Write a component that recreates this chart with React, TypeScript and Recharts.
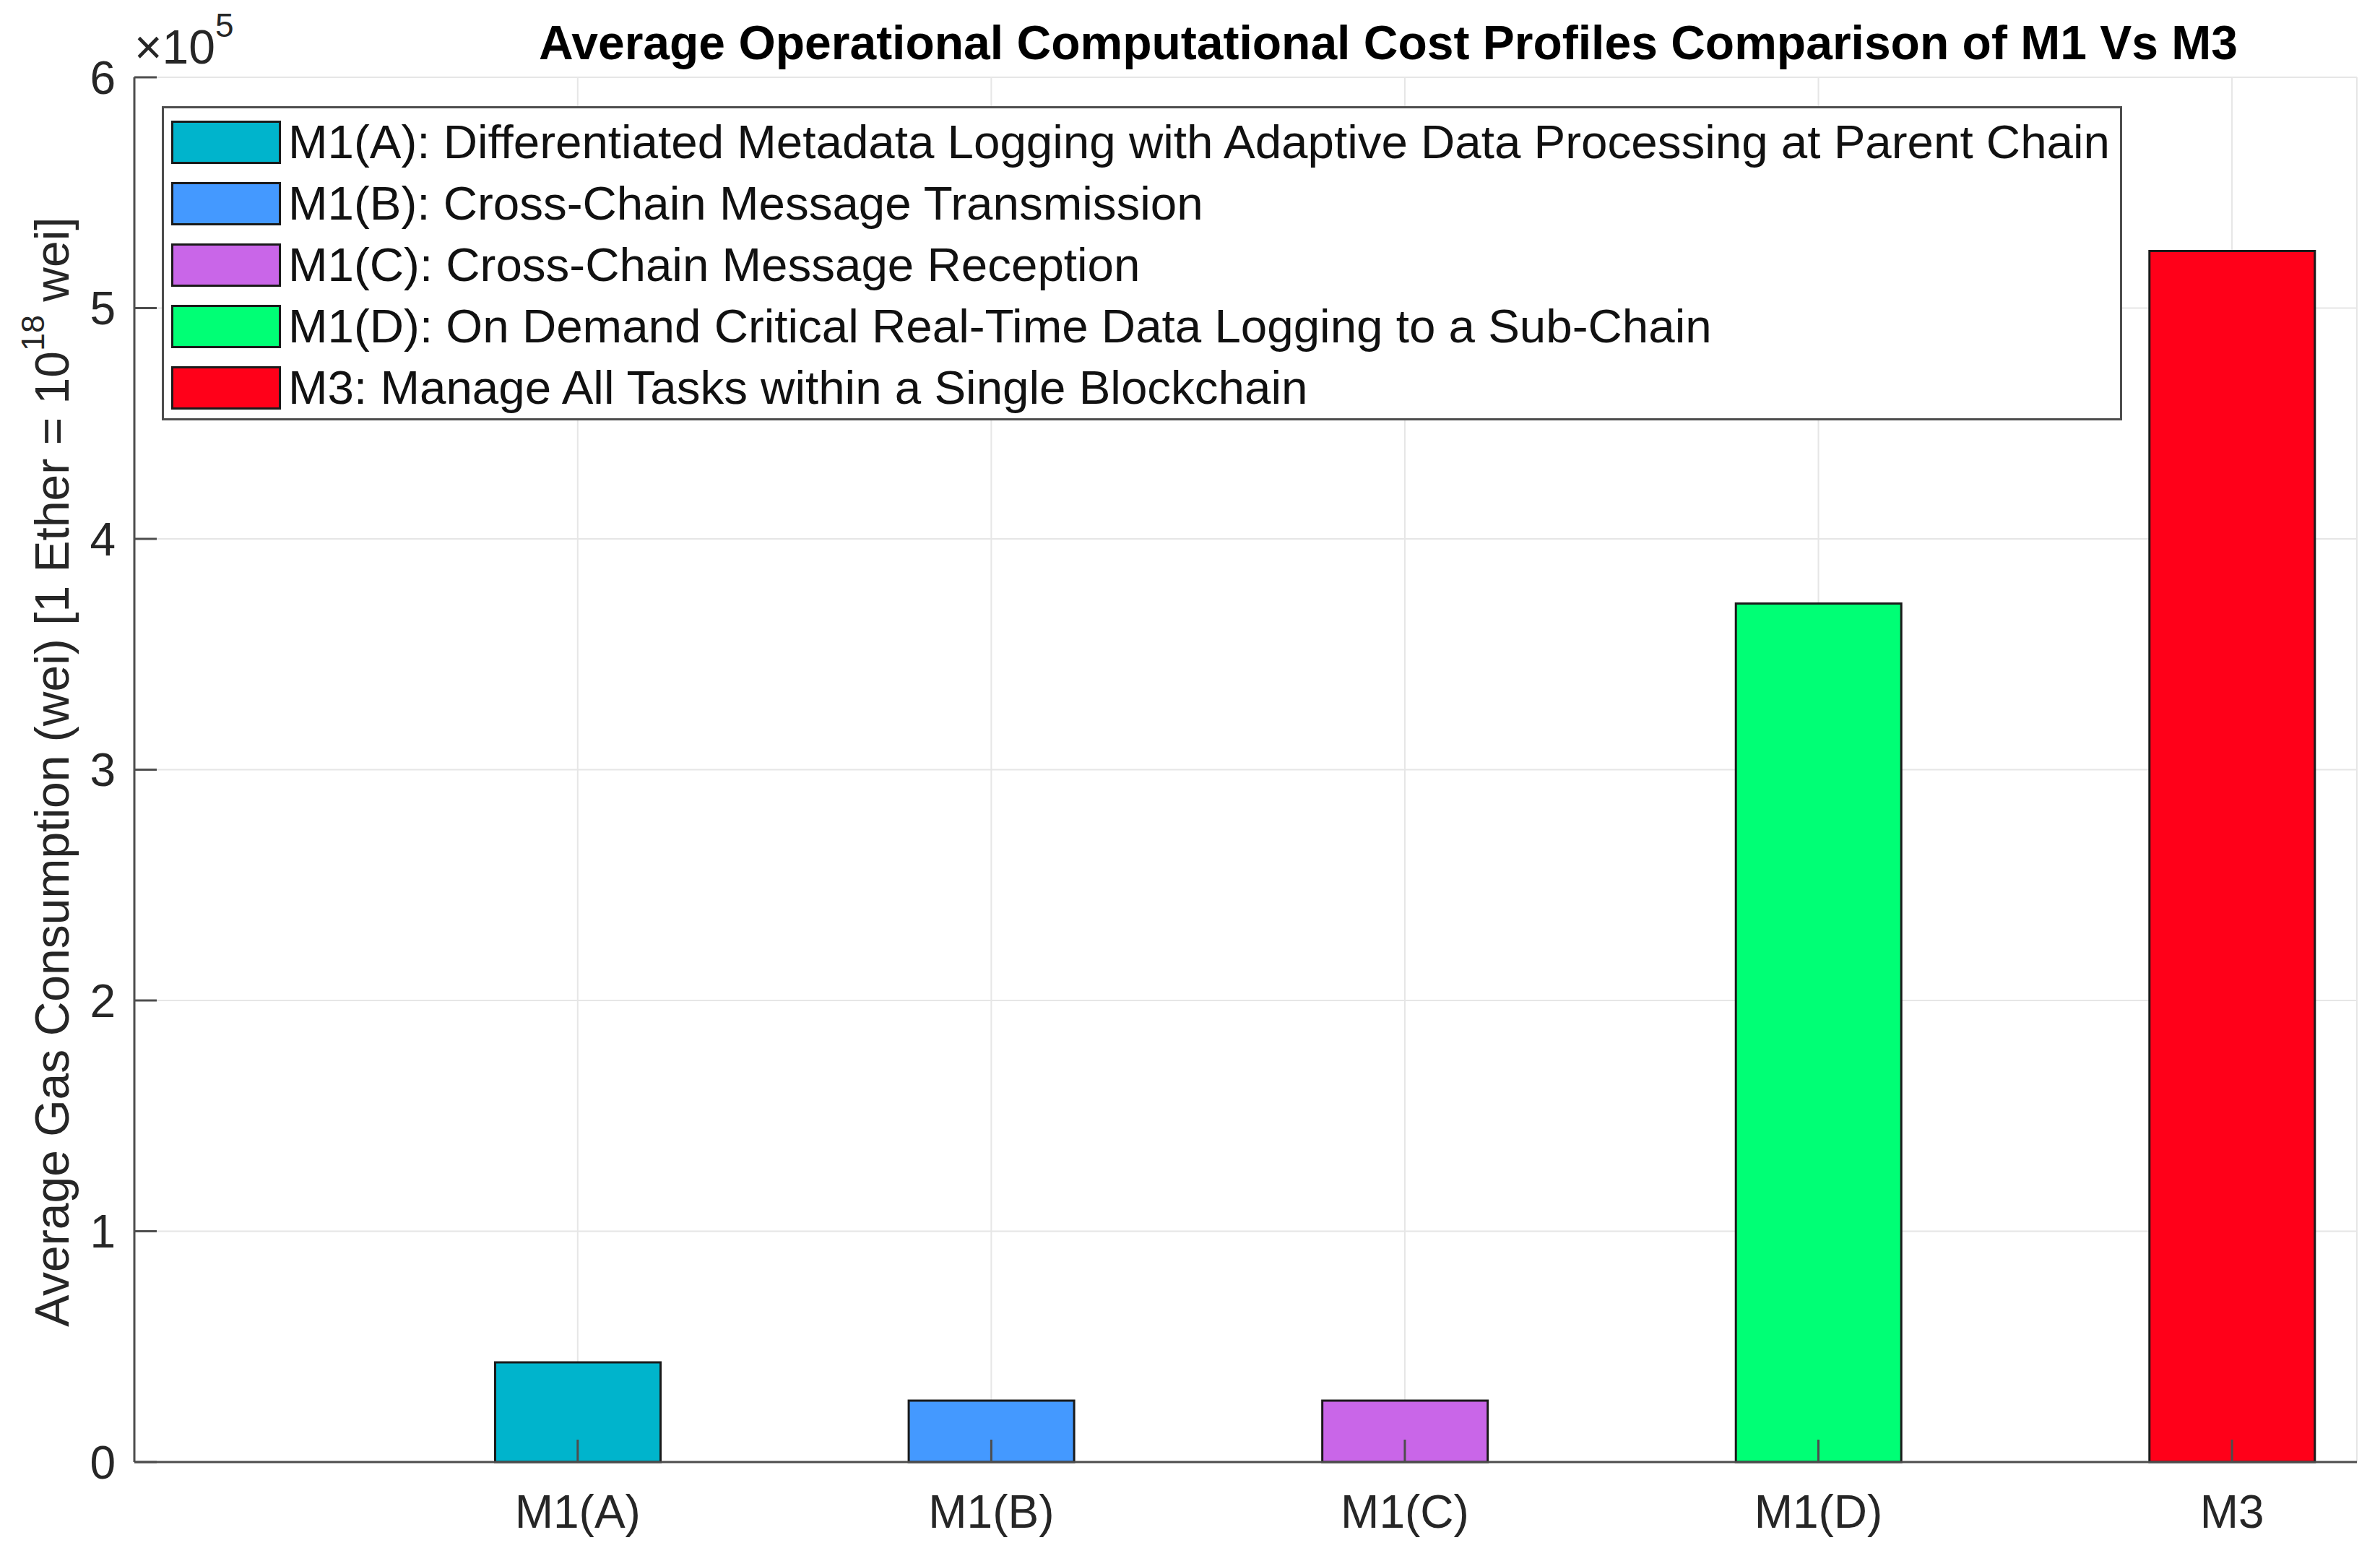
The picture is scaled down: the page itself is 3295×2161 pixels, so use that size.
import React from "react";
import { BarChart, Bar, Cell, XAxis, YAxis, CartesianGrid, Legend } from "recharts";

// values (wei)
const categories = ["M1(A)", "M1(B)", "M1(C)", "M1(D)", "M3"];
const positions = [1, 2, 3, 4, 5];
const gasValues = [43200, 26600, 26600, 372000, 524700];
const barColors = ["#00B4CC", "#4499FF", "#C966E8", "#00FF75", "#FF0019"];
const legendLabels = [
  "M1(A): Differentiated Metadata Logging with Adaptive Data Processing at Parent Chain",
  "M1(B): Cross-Chain Message Transmission",
  "M1(C): Cross-Chain Message Reception",
  "M1(D): On Demand Critical Real-Time Data Logging to a Sub-Chain",
  "M3: Manage All Tasks within a Single Blockchain",
];
const yTicks = [0, 100000, 200000, 300000, 400000, 500000, 600000];
const yScaleExp = 5;

const FONT = "'Liberation Sans', Arial, Helvetica, sans-serif";
const AXIS = "#4d4d4d";
const TEXT = "#262626";

const data = categories.map((name, i) => ({ name, pos: positions[i], value: gasValues[i] }));

const W = 3295;
const H = 2161;

function LegendBox() {
  return (
    <div style={{ background: "#fff", border: `3px solid ${AXIS}`, boxSizing: "border-box", width: 2714, height: 435, padding: "4px 0 0 10px", fontFamily: FONT }}>
      {legendLabels.map((lbl, i) => (
        <div key={lbl} style={{ display: "flex", alignItems: "center", height: 85 }}>
          <div style={{ width: 152, height: 60, background: barColors[i], border: "3px solid #1a1a1a", boxSizing: "border-box", flexShrink: 0 }} />
          <div style={{ fontSize: 65.5, color: "#111", marginLeft: 10, whiteSpace: "nowrap", lineHeight: 1 }}>{lbl}</div>
        </div>
      ))}
    </div>
  );
}

function YLabel(props: any) {
  const { viewBox } = props;
  const cx = 72;
  const cy = (viewBox?.y ?? 107) + (viewBox?.height ?? 1917) / 2 + 3;
  return (
    <text x={cx} y={cy} transform={`rotate(-90 ${cx} ${cy})`} textAnchor="middle" dominantBaseline="central" fontFamily={FONT} fontSize={66} fill={TEXT}>
      Average Gas Consumption (wei) [1 Ether = 10
      <tspan fontSize={45} dy={-27}>18</tspan>
      <tspan dy={27}> wei]</tspan>
    </text>
  );
}

export default function App() {
  return (
    <div style={{ position: "absolute", left: 0, top: 0, width: W, height: H, background: "#fff", fontFamily: FONT }}>
      <div style={{ position: "absolute", left: 0, width: 3844, top: 26, textAlign: "center", fontWeight: 700, fontSize: 66, color: "#000", lineHeight: 1, whiteSpace: "nowrap" }}>
        Average Operational Computational Cost Profiles Comparison of M1 Vs M3
      </div>
      <div style={{ position: "absolute", left: 186, top: 32, fontSize: 66, color: TEXT, lineHeight: 1, whiteSpace: "nowrap" }}>
        ×10<sup style={{ fontSize: 46, verticalAlign: "top", position: "relative", top: -20 }}>{yScaleExp}</sup>
      </div>
      <BarChart width={W} height={H} data={data} margin={{ top: 107, right: 32, left: 0, bottom: 0 }} style={{ position: "absolute", left: 0, top: 0 }}>
        <CartesianGrid stroke="#e6e6e6" strokeWidth={2} />
        <XAxis
          dataKey="pos"
          type="number"
          domain={[-0.072, 5.302]}
          ticks={positions}
          tickFormatter={(v: number) => categories[positions.indexOf(v)] ?? ""}
          height={137}
          tickSize={-31}
          tickMargin={77}
          tick={{ fontSize: 64, fill: TEXT, fontFamily: FONT }}
          axisLine={{ stroke: AXIS, strokeWidth: 3 }}
          tickLine={{ stroke: AXIS, strokeWidth: 3 }}
          interval={0}
          allowDataOverflow
        />
        <XAxis
          xAxisId="top"
          orientation="top"
          dataKey="pos"
          type="number"
          domain={[-0.072, 5.302]}
          ticks={positions}
          height={0}
          tick={false}
          tickSize={-31}
          axisLine={{ stroke: AXIS, strokeWidth: 3 }}
          tickLine={{ stroke: AXIS, strokeWidth: 3 }}
          allowDataOverflow
        />
        <YAxis
          type="number"
          domain={[0, 600000]}
          ticks={yTicks}
          tickFormatter={(v: number) => String(v / Math.pow(10, yScaleExp))}
          width={186}
          tickSize={-31}
          tickMargin={57}
          tick={{ fontSize: 64, fill: TEXT, fontFamily: FONT }}
          axisLine={{ stroke: AXIS, strokeWidth: 3 }}
          tickLine={{ stroke: AXIS, strokeWidth: 3 }}
          interval={0}
          label={{ content: (p: any) => <YLabel {...p} /> }}
        />
        <Legend
          layout="vertical"
          align="center"
          verticalAlign="middle"
          content={() => <LegendBox />}
          wrapperStyle={{ left: 224, top: 147, width: 2714, height: 435 }}
        />
        <Bar dataKey="value" barSize={229} stroke="#1a1a1a" strokeWidth={3} isAnimationActive={false}>
          {data.map((d, i) => (
            <Cell key={d.name} fill={barColors[i]} />
          ))}
        </Bar>
      </BarChart>
    </div>
  );
}
